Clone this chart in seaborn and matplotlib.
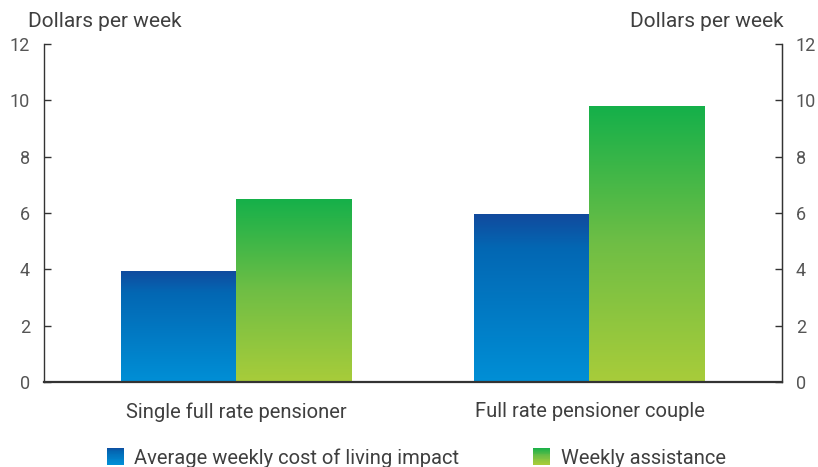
import numpy as np
import pandas as pd
import matplotlib
matplotlib.use("Agg")
import matplotlib.pyplot as plt
import seaborn as sns
from matplotlib.colors import LinearSegmentedColormap
from matplotlib.legend_handler import HandlerBase
from matplotlib.patches import Rectangle


# Data
categories = ["Single full rate pensioner", "Full rate pensioner couple"]
series = ["Average weekly cost of living impact", "Weekly assistance"]
cost_impact = [3.95, 5.95]
assistance = [6.5, 9.8]
y_ticks = [0, 2, 4, 6, 8, 10, 12]

df = pd.DataFrame({
    "category": categories * 2,
    "series": [series[0]] * 2 + [series[1]] * 2,
    "value": cost_impact + assistance,
})

# gradients run top -> bottom
blue_cmap = LinearSegmentedColormap.from_list(
    "blue", [(0, "#114a9d"), (0.2, "#0367b3"), (1, "#008fd6")])
green_cmap = LinearSegmentedColormap.from_list(
    "green", [(0, "#14b04a"), (0.5, "#6fbe45"), (1, "#a8cc3a")])
cmaps = {series[0]: blue_cmap, series[1]: green_cmap}

sns.set_style("white")
plt.rcParams["font.family"] = ["Roboto", "DejaVu Sans"]
text_col = "#3f3f3f"
tick_col = "#555555"

fig = plt.figure(figsize=(8.18, 4.67), dpi=100)
ax = fig.add_axes([0.0538, 0.182, 0.902, 0.724])

sns.barplot(data=df, x="category", y="value", hue="series",
            order=categories, hue_order=series,
            palette=["#0367b3", "#6fbe45"], width=0.655,
            legend=False, ax=ax)

# replace flat fills with vertical gradients clipped to each bar
grad = np.linspace(0, 1, 256).reshape(-1, 1)
bars = list(ax.patches)
for i, bar in enumerate(bars):
    cmap = cmaps[series[i // len(categories)]]
    x0, y0 = bar.get_x(), bar.get_y()
    w, h = bar.get_width(), bar.get_height()
    im = ax.imshow(grad, cmap=cmap, aspect="auto", origin="upper",
                   extent=[x0, x0 + w, y0, y0 + h], zorder=bar.get_zorder())
    im.set_clip_path(bar)
    bar.set_facecolor("none")
    bar.set_edgecolor("none")

ax.set_xlim(-0.545, 1.545)
ax.set_ylim(0, 12)
ax.set_yticks(y_ticks)
ax.set_xlabel("")
ax.set_ylabel("")

ax.spines["top"].set_visible(False)
for side in ["left", "right", "bottom"]:
    ax.spines[side].set_visible(True)
    ax.spines[side].set_color("#333333")
    ax.spines[side].set_linewidth(1.0)
ax.spines["bottom"].set_linewidth(1.6)

ax.tick_params(axis="y", which="both", left=True, right=False, direction="in",
               length=5, width=1, color="#333333", labelsize=13,
               labelcolor=tick_col, pad=10)
ax.tick_params(axis="x", bottom=False, labelsize=14.5, labelcolor=text_col, pad=11)

ax2 = ax.twinx()
ax2.set_ylim(0, 12)
ax2.set_yticks(y_ticks)
ax2.tick_params(axis="y", right=True, direction="in", length=5, width=1,
                color="#333333", labelsize=13, labelcolor=tick_col, pad=10)
for side in ["top", "left", "bottom"]:
    ax2.spines[side].set_visible(False)
ax2.spines["right"].set_color("#333333")

fig.text(0.034, 0.953, "Dollars per week", fontsize=15, color=text_col,
         ha="left", va="center")
fig.text(0.958, 0.953, "Dollars per week", fontsize=15, color=text_col,
         ha="right", va="center")


class GradientHandler(HandlerBase):
    def __init__(self, cmap):
        super().__init__()
        self.cmap = cmap

    def create_artists(self, legend, orig_handle, xdescent, ydescent,
                       width, height, fontsize, trans):
        n = 20
        size = height * 1.2
        x0 = -xdescent + (width - size) / 2
        y0 = -ydescent + (height - size) / 2
        artists = []
        for k in range(n):
            r = Rectangle((x0, y0 + size * (n - 1 - k) / n), size, size / n + 0.3,
                          facecolor=self.cmap(k / (n - 1)), edgecolor="none",
                          transform=trans)
            artists.append(r)
        return artists


handles = [Rectangle((0, 0), 1, 1), Rectangle((0, 0), 1, 1)]
fig.legend(handles, series, loc="lower center", ncol=2, frameon=False,
           bbox_to_anchor=(0.508, -0.04), fontsize=14.5, labelcolor=text_col,
           handler_map={handles[0]: GradientHandler(blue_cmap),
                        handles[1]: GradientHandler(green_cmap)},
           columnspacing=3.6, handlelength=1.0, handletextpad=0.45)

fig.savefig("out.png", dpi=100)
